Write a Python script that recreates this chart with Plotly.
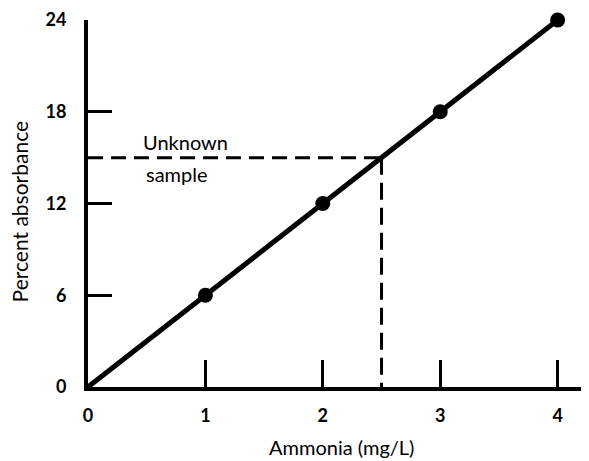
import plotly.graph_objects as go

# Data
ammonia = [0, 1, 2, 3, 4]
absorbance = [0, 6, 12, 18, 24]
point_x = [1, 2, 3, 4]
point_y = [6, 12, 18, 24]
unknown_x = 2.5
unknown_y = 15
x_ticks = [0, 1, 2, 3, 4]
y_ticks = [0, 6, 12, 18, 24]

FONT = "Lato"
OFF = 8  # page body margin
L, T = 88 - OFF, 15 - OFF
PW, PH = 499, 372
fig = go.Figure()

fig.add_trace(go.Scatter(x=ammonia, y=absorbance, mode="lines",
                         line=dict(color="black", width=5),
                         cliponaxis=False, hoverinfo="skip"))
fig.add_trace(go.Scatter(x=point_x, y=point_y, mode="markers",
                         marker=dict(color="black", size=15),
                         cliponaxis=False))
fig.add_trace(go.Scatter(x=[0, unknown_x], y=[unknown_y, unknown_y], mode="lines",
                         line=dict(color="black", width=3, dash="15px,8px"),
                         cliponaxis=False))
fig.add_trace(go.Scatter(x=[unknown_x, unknown_x], y=[unknown_y, 0], mode="lines",
                         line=dict(color="black", width=3, dash="17px,8px"),
                         cliponaxis=False))

fig.add_annotation(x=0.45, y=16.0, text="Unknown", showarrow=False,
                   xanchor="left", yanchor="middle",
                   font=dict(family=FONT, size=20, color="black"))
fig.add_annotation(x=0.48, y=13.9, text="sample", showarrow=False,
                   xanchor="left", yanchor="middle",
                   font=dict(family=FONT, size=20, color="black"))

fig.add_annotation(xref="paper", yref="paper", x=(341 - 88) / PW, y=-(448 - 387) / PH,
                   text="Ammonia (mg/L)", showarrow=False,
                   xanchor="center", yanchor="middle",
                   font=dict(family=FONT, size=20, color="black"))
fig.add_annotation(xref="paper", yref="paper", x=-(88 - 19) / PW, y=(387 - 210) / PH,
                   text="Percent absorbance", showarrow=False, textangle=-90,
                   xanchor="center", yanchor="middle",
                   font=dict(family=FONT, size=21, color="black"))

fig.update_layout(
    width=L + PW, height=461 - OFF,
    margin=dict(l=L, r=0, t=T, b=461 - OFF - T - PH),
    plot_bgcolor="white", paper_bgcolor="white",
    showlegend=False,
    xaxis=dict(range=[0, 4.25], tickvals=x_ticks, ticktext=[str(v) for v in x_ticks],
               ticks="inside", ticklen=27, tickwidth=3, tickcolor="black",
               showline=True, linecolor="black", linewidth=4,
               showgrid=False, zeroline=False, ticklabelstandoff=9,
               ticklabeloverflow="allow",
               tickfont=dict(family=FONT, size=18, color="black", weight="bold")),
    yaxis=dict(range=[0, 24], tickvals=y_ticks, ticktext=[str(v) for v in y_ticks],
               ticks="inside", ticklen=24, tickwidth=3, tickcolor="black",
               showline=True, linecolor="black", linewidth=4,
               showgrid=False, zeroline=False, ticklabelstandoff=14,
               ticklabeloverflow="allow",
               tickfont=dict(family=FONT, size=18, color="black", weight="bold")),
)

fig.write_html("out.html")
